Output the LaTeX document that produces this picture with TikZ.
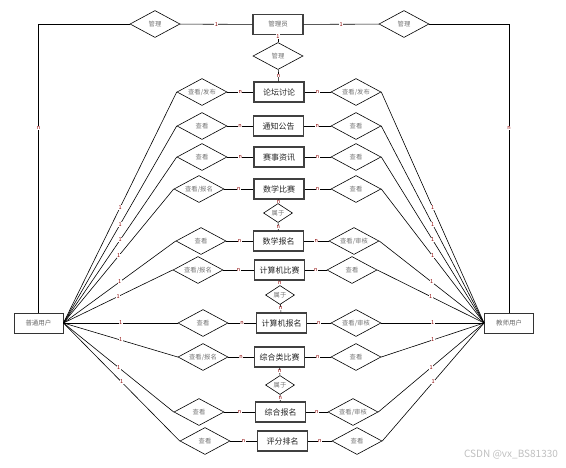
\documentclass[tikz,border=0pt]{standalone}
\usepackage{fontspec}
\setmainfont{Noto Sans CJK SC}
\usetikzlibrary{shapes.geometric}
\begin{document}
\begin{tikzpicture}[x=1pt, y=-1pt,
    entity/.style={rectangle, draw=black!75, line width=1.1pt, minimum width=50pt, minimum height=20pt, inner sep=0pt, font=\fontsize{8}{8}\selectfont, text=black!85},
    user/.style={rectangle, draw=black!80, line width=0.9pt, minimum width=49pt, minimum height=20pt, inner sep=0pt, font=\fontsize{6.5}{6.5}\selectfont, text=black!60},
    rel/.style={diamond, draw, line width=0.6pt, shape aspect=1.85, minimum width=50pt, minimum height=27pt, inner sep=0pt, font=\fontsize{6.3}{6.3}\selectfont, text=black!55},
    belong/.style={diamond, draw, line width=0.6pt, shape aspect=1.85, minimum width=29pt, minimum height=19pt, inner sep=0pt, font=\fontsize{6.3}{6.3}\selectfont, text=black!55},
    link/.style={line width=0.6pt},
    card/.style={fill=white, inner sep=0.4pt, font=\fontsize{5.5}{5.5}\selectfont, text=red!55!black}
]
\useasboundingbox (0,0) rectangle (566,467);
\node[entity, font=\fontsize{6.5}{6.5}\selectfont, text=black!60] (admin) at (278,24.5) {管理员};
\node[rel] (mgL) at (155,24) {管理};
\node[rel] (mgR) at (404,24) {管理};
\node[rel] (mgC) at (278,56) {管理};
\node[user] (user) at (38.5,323) {普通用户};
\node[user] (teacher) at (509,323) {教师用户};
\draw[link] (mgL) -- node[card]{1} (admin);
\draw[link] (admin) -- node[card]{1} (mgR);
\draw[link] (mgL) -| node[card, pos=0.68]{n} (user);
\draw[link] (mgR) -| node[card, pos=0.68]{n} (teacher);
\draw[link] (admin) -- node[card, pos=0.2]{1} (mgC);
\node[entity] (forum) at (279,92) {论坛讨论};
\node[rel] (forumL) at (202,92) {查看/发布};
\node[rel] (forumR) at (356,92) {查看/发布};
\draw[link] (mgC) -- node[card]{n} (forum);
\draw[link] (forumL) -- node[card]{n} (forum);
\draw[link] (forum) -- node[card]{n} (forumR);
\draw[link] (forumL.west) -- node[card]{1} (user.east);
\draw[link] (forumR.east) -- node[card]{1} (teacher.west);
\node[entity] (notice) at (278.5,126) {通知公告};
\node[rel] (noticeL) at (202,126) {查看};
\node[rel] (noticeR) at (356,126) {查看};
\draw[link] (noticeL) -- node[card]{n} (notice);
\draw[link] (notice) -- node[card]{n} (noticeR);
\draw[link] (noticeL.west) -- node[card]{1} (user.east);
\draw[link] (noticeR.east) -- node[card]{1} (teacher.west);
\node[entity] (news) at (279,157) {赛事资讯};
\node[rel] (newsL) at (202,157) {查看};
\node[rel] (newsR) at (356,157) {查看};
\draw[link] (newsL) -- node[card]{n} (news);
\draw[link] (news) -- node[card]{n} (newsR);
\draw[link] (newsL.west) -- node[card]{1} (user.east);
\draw[link] (newsR.east) -- node[card]{1} (teacher.west);
\node[entity] (math) at (279,189) {数学比赛};
\node[rel] (mathL) at (199,189) {查看/报名};
\node[rel] (mathR) at (356,189) {查看};
\draw[link] (mathL) -- node[card]{n} (math);
\draw[link] (math) -- node[card]{n} (mathR);
\draw[link] (mathL.west) -- node[card]{1} (user.east);
\draw[link] (mathR.east) -- node[card]{1} (teacher.west);
\node[belong] (mathB) at (278,213) {属于};
\node[entity] (mathreg) at (278.5,241) {数学报名};
\node[rel] (mathregL) at (201,241) {查看};
\node[rel] (mathregR) at (354,241) {查看/审核};
\draw[link] (math) -- node[card]{n} (mathB);
\draw[link] (mathB) -- node[card]{n} (mathreg);
\draw[link] (mathregL) -- node[card]{n} (mathreg);
\draw[link] (mathreg) -- node[card]{n} (mathregR);
\draw[link] (mathregL.west) -- node[card]{1} (user.east);
\draw[link] (mathregR.east) -- node[card]{1} (teacher.west);
\node[entity] (comp) at (279.5,270) {计算机比赛};
\node[rel] (compL) at (198,270) {查看/报名};
\node[rel] (compR) at (352,270) {查看};
\draw[link] (compL) -- node[card]{n} (comp);
\draw[link] (comp) -- node[card]{n} (compR);
\draw[link] (compL.west) -- node[card]{1} (user.east);
\draw[link] (compR.east) -- node[card]{1} (teacher.west);
\node[belong] (compB) at (280,295) {属于};
\node[entity] (compreg) at (281.5,323) {计算机报名};
\node[rel] (compregL) at (203,323) {查看};
\node[rel] (compregR) at (356,323) {查看/审核};
\draw[link] (comp) -- node[card]{n} (compB);
\draw[link] (compB) -- node[card]{n} (compreg);
\draw[link] (compregL) -- node[card]{n} (compreg);
\draw[link] (compreg) -- node[card]{n} (compregR);
\draw[link] (compregL.west) -- node[card]{1} (user.east);
\draw[link] (compregR.east) -- node[card]{1} (teacher.west);
\node[entity] (mix) at (279.5,357) {综合类比赛};
\node[rel] (mixL) at (203,357) {查看/报名};
\node[rel] (mixR) at (356,357) {查看};
\draw[link] (mixL) -- node[card]{n} (mix);
\draw[link] (mix) -- node[card]{n} (mixR);
\draw[link] (mixL.west) -- node[card]{1} (user.east);
\draw[link] (mixR.east) -- node[card]{1} (teacher.west);
\node[belong] (mixB) at (280,385) {属于};
\node[entity] (mixreg) at (280.5,412) {综合报名};
\node[rel] (mixregL) at (199,412) {查看};
\node[rel] (mixregR) at (353,412) {查看/审核};
\draw[link] (mix) -- node[card]{n} (mixB);
\draw[link] (mixB) -- node[card]{n} (mixreg);
\draw[link] (mixregL) -- node[card]{n} (mixreg);
\draw[link] (mixreg) -- node[card]{n} (mixregR);
\draw[link] (mixregL.west) -- node[card]{1} (user.east);
\draw[link] (mixregR.east) -- node[card]{1} (teacher.west);
\node[entity] (rank) at (282.5,441) {评分排名};
\node[rel] (rankL) at (205,441) {查看};
\node[rel] (rankR) at (357,441) {查看};
\draw[link] (rankL) -- node[card]{n} (rank);
\draw[link] (rank) -- node[card]{n} (rankR);
\draw[link] (rankL.west) -- node[card]{1} (user.east);
\draw[link] (rankR.east) -- node[card]{1} (teacher.west);
\node[text=black!25, font=\fontsize{10}{10}\selectfont] (mark) at (511,455) {CSDN @vx\_BS81330};
\end{tikzpicture}
\end{document}
